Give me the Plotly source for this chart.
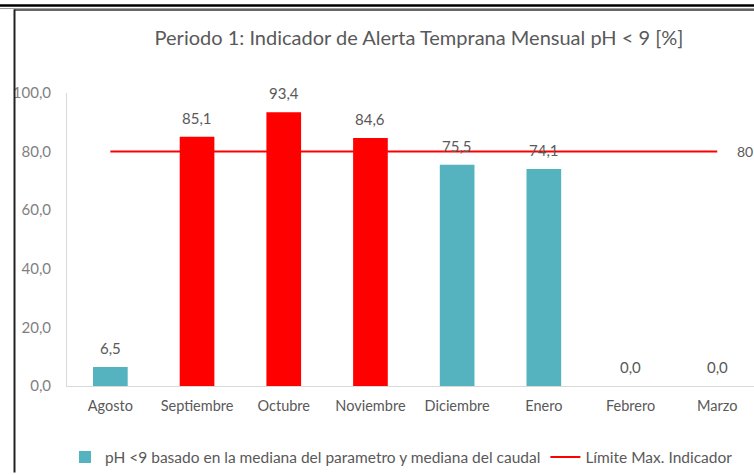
import plotly.graph_objects as go

months = ["Agosto", "Septiembre", "Octubre", "Noviembre", "Diciembre", "Enero", "Febrero", "Marzo"]
values = [6.5, 85.1, 93.4, 84.6, 75.5, 74.1, 0.0, 0.0]
limit_values = [80, 80, 80, 80, 80, 80, 80, 80]
limit = 80
bar_name = "pH <9 basado en la mediana del parametro y mediana del caudal"
line_name = "Límite Max. Indicador"
title_text = "Periodo 1: Indicador de Alerta Temprana Mensual pH < 9 [%]"

TEAL = "#55B3BF"
RED = "#FF0000"
GRAY = "#595959"
FONT = "Lato, 'Open Sans', sans-serif"

bar_colors = [RED if v > limit else TEAL for v in values]

W, H = 754, 475
L, R, T, B = 67, 0, 93, 87
pw = W - L - R
ph = H - T - B

def px_x(p):
    return (p - L) / pw

def px_y(p):
    return (H - B - p) / ph

fig = go.Figure()
fig.add_trace(go.Bar(
    x=months, y=values, name=bar_name,
    marker=dict(color=bar_colors, line=dict(width=0)),
    showlegend=True,
))
fig.add_trace(go.Scatter(
    x=months, y=limit_values, name=line_name, mode="lines",
    line=dict(color=RED, width=2),
))

for m, v in zip(months, values):
    fig.add_annotation(x=m, y=v, text=f"{v:.1f}".replace(".", ","), showarrow=False,
                       yanchor="middle", yshift=19, font=dict(size=15, color=GRAY, family=FONT))

fig.add_annotation(x=months[-1], y=limit, text=str(limit), showarrow=False, xanchor="left",
                   xshift=18, font=dict(size=14, color=GRAY, family=FONT))

# frame lines
fig.add_shape(type="line", xref="paper", yref="paper", x0=px_x(0), x1=px_x(W), y0=px_y(5), y1=px_y(5),
              line=dict(color="#000000", width=2.5))
fig.add_shape(type="line", xref="paper", yref="paper", x0=px_x(0), x1=px_x(W), y0=px_y(8), y1=px_y(8),
              line=dict(color="#9a9a9a", width=1))
fig.add_shape(type="line", xref="paper", yref="paper", x0=px_x(14), x1=px_x(W), y0=px_y(9.5), y1=px_y(9.5),
              line=dict(color="#333333", width=1.5))
fig.add_shape(type="line", xref="paper", yref="paper", x0=px_x(14.5), x1=px_x(14.5), y0=px_y(9), y1=px_y(H),
              line=dict(color="#222222", width=2))

fig.update_layout(
    width=W, height=H,
    margin=dict(l=L, r=R, t=T, b=B, pad=0),
    paper_bgcolor="white", plot_bgcolor="white",
    separators=",.",
    bargap=0.6,
    font=dict(family=FONT, color=GRAY, size=15),
    title=dict(text=title_text, x=419 / W, xanchor="center", y=1 - 38 / H, yanchor="middle",
               font=dict(size=20, color=GRAY, family=FONT)),
    xaxis=dict(type="category", range=[-0.5, -0.5 + pw / 86.7], showline=True, linecolor="#d9d9d9",
               linewidth=1, showgrid=False, ticks="", ticklabelstandoff=7,
               tickfont=dict(size=14.5, color=GRAY), fixedrange=True),
    yaxis=dict(range=[0, 100], tickvals=[0, 20, 40, 60, 80, 100], tickformat=".1f", showline=True,
               linecolor="#d9d9d9", linewidth=1, showgrid=False, zeroline=False, ticks="",
               ticklabelstandoff=12, tickfont=dict(size=15, color="#7f7f7f"), fixedrange=True),
    legend=dict(orientation="h", x=px_x(65), xanchor="left", y=px_y(460), yanchor="middle",
                font=dict(size=15.5, color=GRAY), itemwidth=30, tracegroupgap=0),
)

fig.write_html("out.html", post_script="document.body.style.margin='0px';",
               config={"displayModeBar": False})
